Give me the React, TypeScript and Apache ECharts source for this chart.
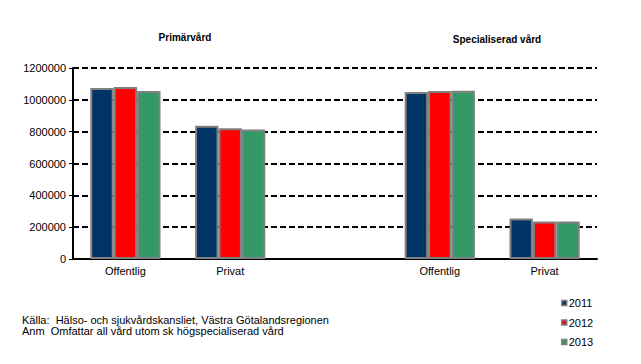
import React, { useEffect, useRef } from "react";
import * as echarts from "echarts";

const categories = ["Offentlig", "Privat", "", "Offentlig", "Privat"];
const years = ["2011", "2012", "2013"];
const values2011 = [1075000, 837000, null, 1050000, 254000];
const values2012 = [1081000, 822000, null, 1056000, 236000];
const values2013 = [1056000, 814000, null, 1057000, 236000];
const colors = ["#003366", "#FF0000", "#339966"];
const yTicks = { min: 0, max: 1200000, interval: 200000 };
const groupTitles = ["Primärvård", "Specialiserad vård"];
const footnotes = [
  "Källa:  Hälso- och sjukvårdskansliet, Västra Götalandsregionen",
  "Anm  Omfattar all vård utom sk högspecialiserad vård",
];

const SANS = "'Liberation Sans', Arial, sans-serif";

export default function App() {
  const ref = useRef<HTMLDivElement>(null);
  useEffect(() => {
    if (!ref.current) return;
    const chart = echarts.init(ref.current, null, { renderer: "svg" });
    const seriesData = [values2011, values2012, values2013];
    chart.setOption({
      animation: false,
      backgroundColor: "#ffffff",
      grid: { left: 73, right: 44, top: 68, bottom: 105, containLabel: false },
      xAxis: {
        type: "category",
        data: categories,
        axisLine: { show: true, lineStyle: { color: "#000", width: 2 } },
        axisTick: { show: false },
        axisLabel: { color: "#000", fontSize: 11, fontFamily: SANS, margin: 6 },
      },
      yAxis: {
        type: "value",
        min: yTicks.min,
        max: yTicks.max,
        interval: yTicks.interval,
        axisLine: { show: true, lineStyle: { color: "#000", width: 2 } },
        axisTick: { show: true, length: 4, lineStyle: { color: "#000", width: 1 } },
        axisLabel: {
          color: "#000",
          fontSize: 11,
          fontFamily: SANS,
          margin: 7,
          formatter: (v: number) => String(v),
        },
        splitLine: { show: true, lineStyle: { color: "#000", width: 2, type: [6, 3] } },
      },
      legend: {
        orient: "vertical",
        left: 561,
        top: 297,
        height: 66,
        itemWidth: 5,
        itemHeight: 5,
        itemGap: 7.5,
        padding: 0,
        icon: "rect",
        itemStyle: { borderColor: "#808080", borderWidth: 1.5 },
        textStyle: { color: "#000", fontSize: 11, fontFamily: SANS, lineHeight: 12, padding: [0, 0, 0, -3] },
        data: years,
      },
      graphic: [
        {
          type: "text",
          x: 185,
          y: 37,
          style: {
            text: groupTitles[0],
            font: "bold 10px " + SANS,
            fill: "#000",
            textAlign: "center",
            textVerticalAlign: "middle",
          },
        },
        {
          type: "text",
          x: 497,
          y: 39,
          style: {
            text: groupTitles[1],
            font: "bold 10px " + SANS,
            fill: "#000",
            textAlign: "center",
            textVerticalAlign: "middle",
          },
        },
        ...footnotes.map((t, i) => ({
          type: "text",
          x: 22,
          y: 320 + i * 11,
          style: { text: t, font: "11px " + SANS, fill: "#000", textVerticalAlign: "middle" },
        })),
      ],
      series: years.map((y, i) => ({
        name: y,
        type: "bar",
        data: seriesData[i],
        barGap: "0%",
        barCategoryGap: "33%",
        itemStyle: { color: colors[i], borderColor: "#808080", borderWidth: 2 },
      })),
    });
    return () => chart.dispose();
  }, []);
  return (
    <div
      ref={ref}
      style={{ position: "fixed", left: 0, top: 0, width: 641, height: 364 }}
    />
  );
}
